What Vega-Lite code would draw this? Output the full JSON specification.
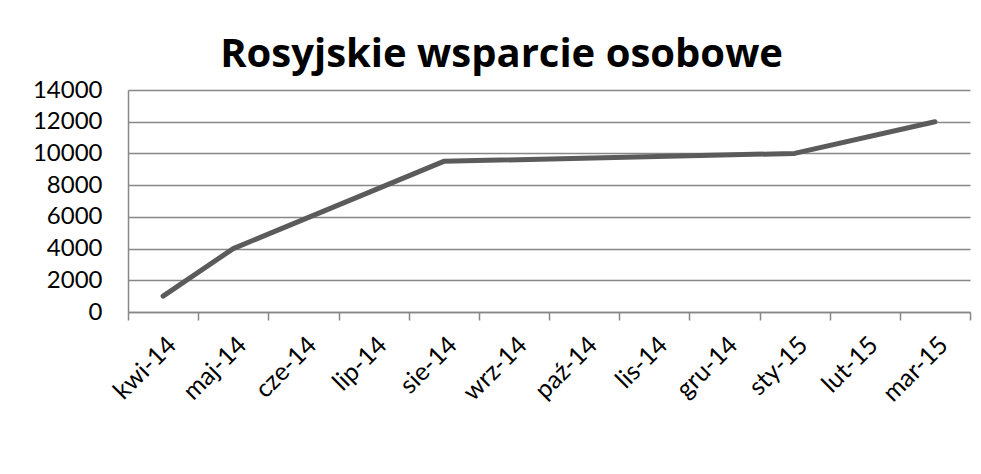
{
  "$schema": "https://vega.github.io/schema/vega-lite/v6.json",
  "width": 842,
  "height": 222,
  "autosize": {"type": "none"},
  "padding": {"left": 128, "top": 90, "right": 11, "bottom": 162},
  "background": "white",
  "title": {
    "text": "Rosyjskie wsparcie osobowe",
    "font": "Open Sans",
    "fontSize": 40,
    "fontWeight": "bold",
    "color": "black",
    "anchor": "middle",
    "frame": "bounds",
    "offset": 3
  },
  "data": {
    "values": [
      {"miesiac": "kwi-14", "liczba": 1000},
      {"miesiac": "maj-14", "liczba": 4000},
      {"miesiac": "sie-14", "liczba": 9500},
      {"miesiac": "sty-15", "liczba": 10000},
      {"miesiac": "mar-15", "liczba": 12000}
    ]
  },
  "mark": {"type": "line", "color": "#5b5b5b", "strokeWidth": 5, "strokeCap": "round", "strokeJoin": "round"},
  "encoding": {
    "x": {
      "field": "miesiac",
      "type": "ordinal",
      "bandPosition": 0.5,
      "scale": {
        "type": "band",
        "domain": ["kwi-14", "maj-14", "cze-14", "lip-14", "sie-14", "wrz-14", "paź-14", "lis-14", "gru-14", "sty-15", "lut-15", "mar-15"],
        "paddingInner": 0,
        "paddingOuter": 0
      },
      "axis": {
        "title": null,
        "grid": false,
        "domain": true,
        "domainColor": "#878787",
        "domainWidth": 1.5,
        "ticks": true,
        "tickBand": "extent",
        "tickSize": 8,
        "tickColor": "#878787",
        "tickWidth": 1.5,
        "labelAngle": -45,
        "labelFont": "Lato",
        "labelFontSize": 25,
        "labelColor": "black",
        "labelPadding": 12
      }
    },
    "y": {
      "field": "liczba",
      "type": "quantitative",
      "scale": {"domain": [0, 14000], "nice": false},
      "axis": {
        "title": null,
        "values": [0, 2000, 4000, 6000, 8000, 10000, 12000, 14000],
        "format": "d",
        "grid": true,
        "gridColor": "#878787",
        "gridWidth": 1.5,
        "domain": true,
        "domainColor": "#878787",
        "domainWidth": 1.5,
        "ticks": false,
        "labelFont": "Lato",
        "labelFontSize": 24,
        "labelColor": "black",
        "labelPadding": 26
      }
    }
  },
  "config": {"view": {"stroke": null}}
}
